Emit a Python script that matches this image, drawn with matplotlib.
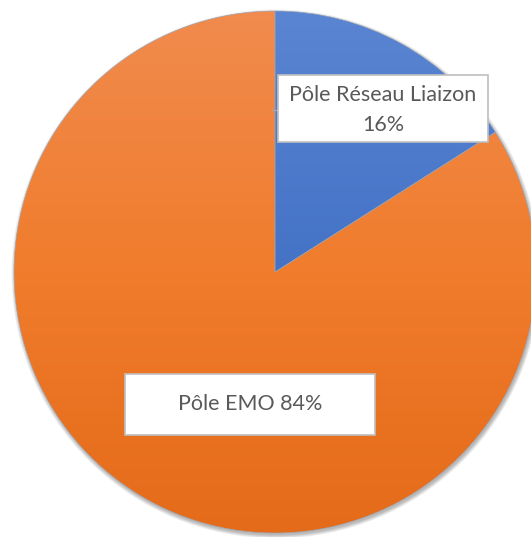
import matplotlib.pyplot as plt
import numpy as np
from matplotlib.patches import Circle, Rectangle
from matplotlib.colors import LinearSegmentedColormap

labels = ["Pôle Réseau Liaizon", "Pôle EMO"]
shares = [16, 84]

W, H = 531, 537
fig = plt.figure(figsize=(W / 100, H / 100), dpi=100)
ax = fig.add_axes([0, 0, 1, 1])

cx, cy, r = 275, 265, 261

# soft shadow under the pie
for i in range(6):
    ax.add_patch(Circle((cx + 1, cy - 2), r + 3.5 - i * 0.7, color="#000000",
                        alpha=0.05, lw=0, zorder=1))

wedges, _ = ax.pie(shares, center=(cx, cy), radius=r, startangle=90,
                   counterclock=False, frame=True,
                   wedgeprops=dict(edgecolor="none", linewidth=0))

grads = [("#3062bd", "#4472c6", "#5a85d2"),
         ("#e46b19", "#f07c2c", "#f18b4e")]
for w, stops in zip(wedges, grads):
    cmap = LinearSegmentedColormap.from_list("g", list(stops))
    grad = np.linspace(0, 1, 256).reshape(-1, 1)
    im = ax.imshow(grad, cmap=cmap, extent=(cx - r, cx + r, cy - r, cy + r),
                   origin="lower", aspect="auto", zorder=3)
    im.set_clip_path(w)
# thin seams between slices
for w in wedges:
    w.set_facecolor("none")
    w.set_edgecolor("#9aa4b5")
    w.set_linewidth(0.4)
    w.set_zorder(4)
ax.set_xlim(0, W)
ax.set_ylim(0, H)
ax.set_aspect("auto")
ax.axis("off")

font = dict(family=["Lato", "DejaVu Sans"], color="#595959", fontsize=15.5)

# label 1
ax.plot([272, 279], [537 - 110, 537 - 110], color="#a6a6a6", lw=1, zorder=5)
ax.add_patch(Rectangle((278, 537 - 142), 210, 67, facecolor="white",
                       edgecolor="#bfbfbf", lw=1.2, zorder=5))
ax.text(383, 537 - 110, f"{labels[0]}\n{shares[0]}%", ha="center",
        va="center", linespacing=1.65, zorder=6, **font)

# label 2
ax.add_patch(Rectangle((125, 537 - 435), 250, 61, facecolor="white",
                       edgecolor="#bfbfbf", lw=1.2, zorder=5))
ax.text(250, 537 - 404.5, f"{labels[1]} {shares[1]}%", ha="center",
        va="center", zorder=6, **font)

fig.savefig("out.png", dpi=100)
